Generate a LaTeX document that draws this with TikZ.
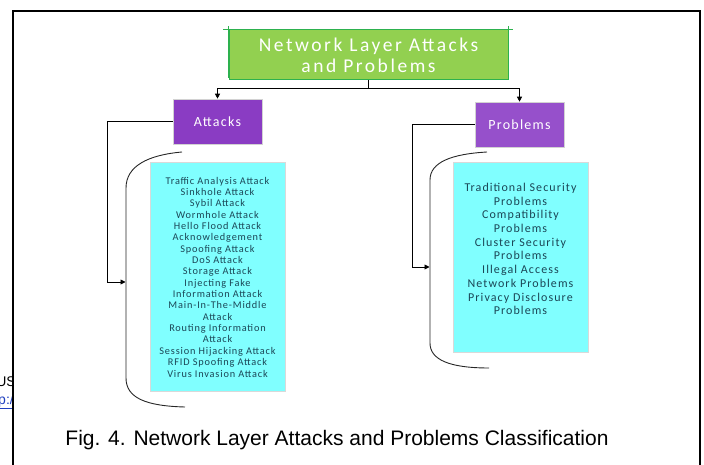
\documentclass[tikz,border=0pt]{standalone}
\usepackage{fontspec}
\setmainfont{Carlito}
\newfontfamily\capfont{Liberation Sans}
\usetikzlibrary{arrows.meta}
\definecolor{titlegreen}{HTML}{92D050}
\definecolor{linegreen}{HTML}{2DB14E}
\definecolor{purpA}{HTML}{8A3CC3}
\definecolor{purpB}{HTML}{9650CB}
\definecolor{listcyan}{HTML}{80FFFF}
\definecolor{listtext}{HTML}{1B4656}
\definecolor{linkblue}{HTML}{1F3FBF}
\tikzset{
  conn/.style={line width=0.9pt, black},
  arr/.style={conn, -{Triangle[length=5pt,width=5pt]}},
  catbox/.style={minimum width=89pt, minimum height=45pt, draw=gray!35, line width=0.6pt, text=white, font=\fontsize{14}{16}\selectfont\addfontfeatures{LetterSpace=9}},
  listbox/.style={fill=listcyan, draw=gray!30, line width=0.5pt, inner sep=0pt},
  listtxt/.style={text=listtext, align=center, inner sep=0pt},
  brace/.style={line width=0.9pt, black!85},
}
\begin{document}
\begin{tikzpicture}[x=1pt,y=-1pt]
\useasboundingbox (0,0) rectangle (704,465);
% page fragments outside the frame
\begin{scope}
  \clip (0,365) rectangle (12.5,415);
  \node[anchor=base east, inner sep=0pt, font=\capfont\fontsize{14}{16}\selectfont] (fragA) at (16,386) {US};
  \node[anchor=base east, inner sep=0pt, text=linkblue, font=\capfont\fontsize{14}{16}\selectfont] (fragB) at (14,404) {\underline{p:/}};
\end{scope}
% frame
\draw[line width=2.5pt] (13,465) -- (13,11) -- (700,11) -- (700,465);
% title
\node[fill=titlegreen, draw=linegreen, line width=1pt, minimum width=279pt, minimum height=50pt, align=center, text=white,
      font=\fontsize{19.5}{21}\selectfont\addfontfeatures{LetterSpace=13}] (T) at (368.5,55) {Network Layer Attacks\\and Problems};
\draw[linegreen, line width=1pt] (223,30) -- (513,30);
\draw[linegreen, line width=1pt] (T.north west) ++(0,-3) -- ([yshift=2pt]T.south west);
\draw[linegreen, line width=1pt] (T.north east) ++(0,-3) -- ([yshift=2pt]T.south east);
% categories
\node[catbox, fill=purpA] (A) at (217.5,121.5) {Attacks};
\node[catbox, fill=purpB] (P) at (519.5,124.5) {Problems};
\coordinate (J) at (368.5,88);
\draw[conn] (T.south) -- (J);
\draw[arr] (J) -| (A.north);
\draw[arr] (J) -| (P.north);
% list boxes
\node[listbox, minimum width=135pt, minimum height=229pt] (LB) at (217.5,276.5) {};
\node[listbox, minimum width=135pt, minimum height=190pt] (RB) at (520.5,257) {};
\node[listtxt, font=\fontsize{10.3}{11.35}\selectfont\addfontfeatures{LetterSpace=8}] (L) at (217.5,277) {Traffic Analysis Attack\\Sinkhole Attack\\Sybil Attack\\Wormhole Attack\\Hello Flood Attack\\Acknowledgement\\Spoofing Attack\\DoS Attack\\Storage Attack\\Injecting Fake\\Information Attack\\Main-In-The-Middle\\Attack\\Routing Information\\Attack\\Session Hijacking Attack\\RFID Spoofing Attack\\Virus Invasion Attack};
\node[listtxt, font=\fontsize{12}{13.7}\selectfont\addfontfeatures{LetterSpace=9}] (R) at (520.5,249) {Traditional Security\\Problems\\Compatibility\\Problems\\Cluster Security\\Problems\\Illegal Access\\Network Problems\\Privacy Disclosure\\Problems};
% braces
\draw[brace] (182,152) .. controls (148,155) and (126,166) .. (126,188) -- (126,378) .. controls (126,398) and (146,406) .. (185,407);
\draw[brace] (487,152) .. controls (452,154) and (430,162) .. (430,180) -- (430,343) .. controls (430,360) and (450,368) .. (489,368);
\coordinate (lb) at (125.5,282);
\coordinate (rb) at (429.5,267);
% connectors to braces
\draw[arr] (A.west) -- ++(-65,0) |- (lb);
\draw[arr] (P.west) -- ++(-62,0) |- (rb);
% caption
\node[font=\capfont\fontsize{21}{24}\selectfont] (C) at (337,440) {Fig. 4. Network Layer Attacks and Problems Classification};
\end{tikzpicture}
\end{document}
